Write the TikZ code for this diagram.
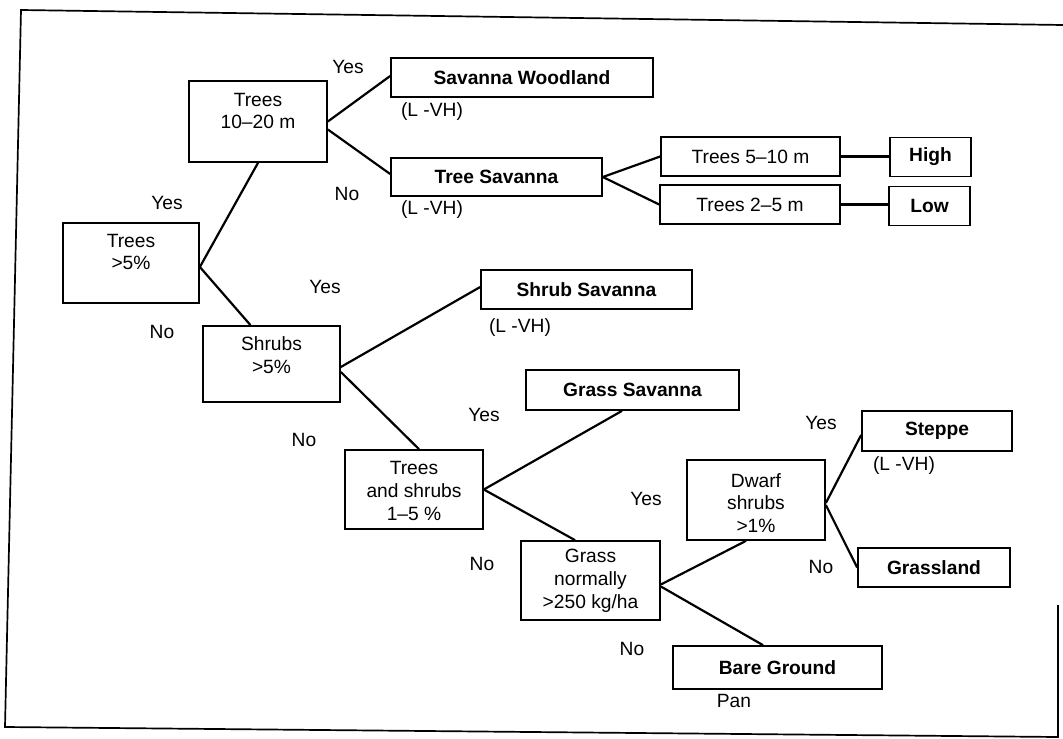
\documentclass[tikz,border=0pt]{standalone}
\usepackage{fontspec}
\setmainfont{Liberation Sans}
\usetikzlibrary{calc}
\tikzset{
  fnt/.style={font=\fontsize{19.2pt}{22.8pt}\selectfont},
  box/.style={draw, line width=1.7pt, inner sep=0pt, align=center, fnt},
  leaf/.style={box, font=\fontsize{19.2pt}{22.8pt}\selectfont\bfseries},
  txt/.style={inner sep=0pt, align=center, fnt},
  conn/.style={line width=2.2pt},
  frame/.style={line width=1.7pt, line join=miter}
}
\begin{document}
\begin{tikzpicture}[x=1pt,y=-1pt]
\useasboundingbox (0,0) rectangle (1063,739);
% frame
\draw[frame] (1063,25) -- (21,10) -- (5,727) -- (1058,737) -- (1058,605);

% decision boxes
\node[box, minimum width=136pt, minimum height=80pt] (t520) at (131,263) {};
\node[txt] (t520t) at ($(t520)+(0,-11)$) {Trees\\>5\%};
\node[box, minimum width=138pt, minimum height=81pt] (t1020) at (258,121.5) {};
\node[txt] (t1020t) at ($(t1020)+(0,-10.5)$) {Trees\\10–20 m};
\node[box, minimum width=137pt, minimum height=76pt] (shr) at (271.5,364) {};
\node[txt] (shrt) at ($(shr)+(0,-9)$) {Shrubs\\>5\%};
\node[box, minimum width=138pt, minimum height=79pt] (tas) at (414,489.5) {};
\node[txt] (tast) at ($(tas)+(0,1.5)$) {Trees\\and shrubs\\1–5 \%};
\node[box, minimum width=139pt, minimum height=79pt] (gn) at (590.5,580.5) {};
\node[txt] (gnt) at ($(gn)+(0,0.5)$) {Grass\\normally\\>250 kg/ha};
\node[box, minimum width=138pt, minimum height=80pt] (dw) at (756,500) {};
\node[txt] (dwt) at ($(dw)+(0,3)$) {Dwarf\\shrubs\\>1\%};

% class boxes
\node[leaf, minimum width=262pt, minimum height=39pt] (sw) at (522,77.5) {Savanna Woodland};
\node[leaf, minimum width=211pt, minimum height=38pt] (ts) at (496.5,177) {Tree Savanna};
\node[box, minimum width=179pt, minimum height=39pt] (t510) at (750.5,156.5) {Trees 5–10 m};
\node[box, minimum width=180pt, minimum height=39pt] (t25) at (750,204.5) {Trees 2–5 m};
\node[leaf, minimum width=81pt, minimum height=39pt] (high) at (930.5,157) {High};
\node[leaf, minimum width=81pt, minimum height=39pt] (low) at (929.5,206) {Low};
\node[leaf, minimum width=211pt, minimum height=39pt] (ss) at (586.5,289.5) {Shrub Savanna};
\node[leaf, minimum width=213pt, minimum height=40pt] (gs) at (632.5,390) {Grass Savanna};
\node[leaf, minimum width=150pt, minimum height=40pt] (st) at (937,431) {Steppe};
\node[leaf, minimum width=152pt, minimum height=39pt] (gl) at (934,567.5) {Grassland};
\node[leaf, minimum width=209pt, minimum height=43pt] (bg) at (777.5,667.5) {Bare Ground};

% connectors
\draw[conn] ($(t520.east)+(0,4)$) -- (t1020.south);
\draw[conn] ($(t520.east)+(0,4)$) -- ($(shr.north)+(-21,0)$);
\draw[conn] (t1020.east) -- ($(sw.west)+(0,-1.5)$);
\draw[conn] ($(t1020.east)+(0,8)$) -- ($(ts.west)+(0,-3)$);
\draw[conn] (ts.east) -- (t510.west);
\draw[conn] (ts.east) -- (t25.west);
\draw[conn, line width=2.8pt] (t510.east) -- (t510.east -| high.west);
\draw[conn, line width=2.8pt] (t25.east) -- (t25.east -| low.west);
\draw[conn] ($(shr.east)+(0,3)$) -- ($(ss.west)+(0,-2.5)$);
\draw[conn] ($(shr.east)+(0,8)$) -- ($(tas.north)+(5,0)$);
\draw[conn] (tas.east) -- ($(gs.south)+(-10.5,0)$);
\draw[conn] (tas.east) -- ($(gn.north)+(-15.5,0)$);
\draw[conn] ($(gn.east)+(0,4)$) -- ($(dw.south)+(-10,0)$);
\draw[conn] ($(gn.east)+(0,6)$) -- ($(bg.north)+(-14.5,0)$);
\draw[conn] ($(dw.east)+(0,3)$) -- ($(st.west)+(0,4)$);
\draw[conn] ($(dw.east)+(0,5)$) -- (gl.west);

% branch labels
\node[txt] (y1) at (348,67) {Yes};
\node[txt] (n1) at (347,194) {No};
\node[txt] (y2) at (167,203) {Yes};
\node[txt] (n2) at (162,332) {No};
\node[txt] (y3) at (325,287) {Yes};
\node[txt] (n3) at (304,440) {No};
\node[txt] (y4) at (484,415) {Yes};
\node[txt] (n4) at (482,564) {No};
\node[txt] (y5) at (646,499) {Yes};
\node[txt] (y6) at (821,423) {Yes};
\node[txt] (n6) at (821,567) {No};
\node[txt] (n5) at (632,649) {No};
\node[txt] (pan) at (734,701) {Pan};
\node[txt] (lv1) at (432,112) {(L -VH)};
\node[txt] (lv2) at (432,210) {(L -VH)};
\node[txt] (lv3) at (520,328) {(L -VH)};
\node[txt] (lv4) at (904,466) {(L -VH)};
\end{tikzpicture}
\end{document}
